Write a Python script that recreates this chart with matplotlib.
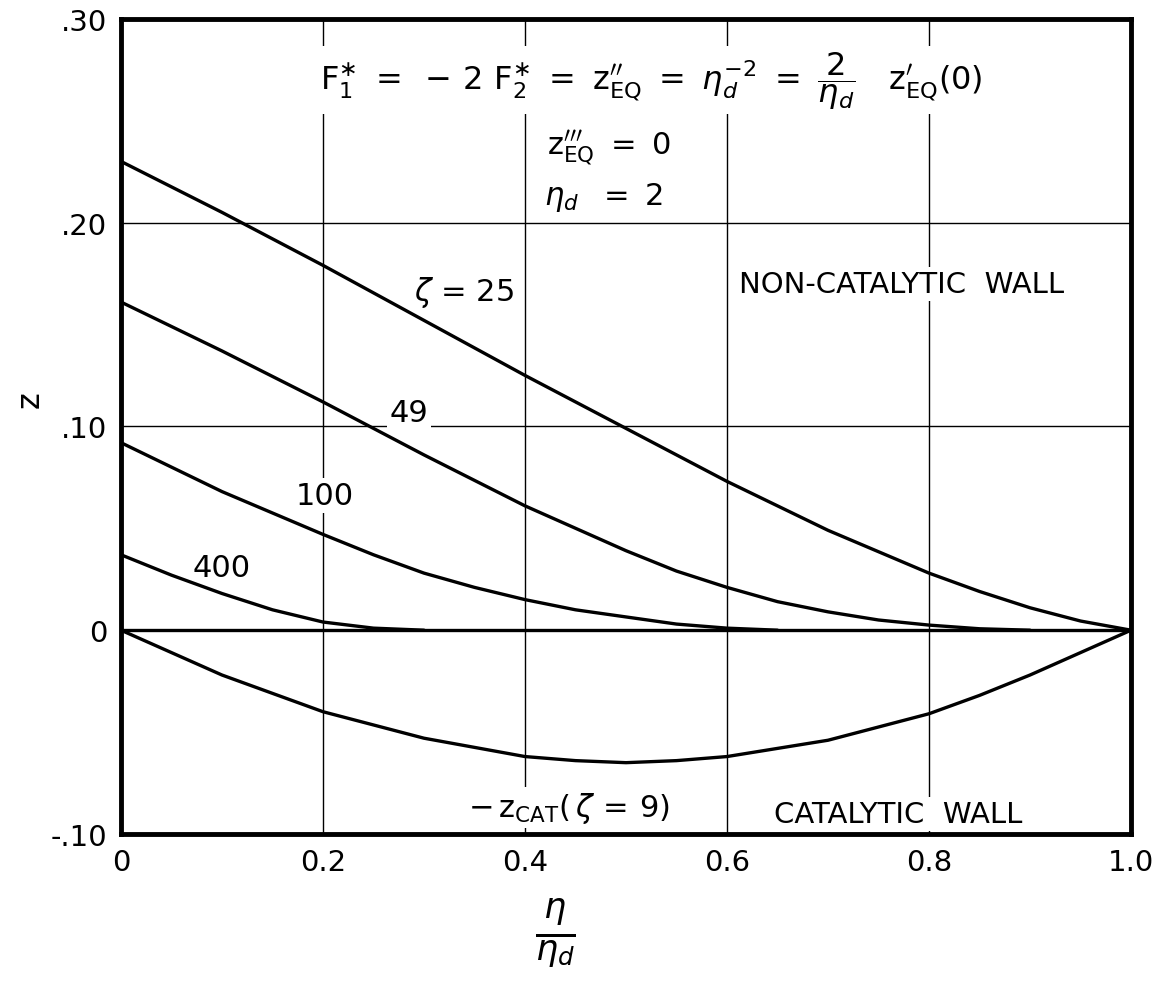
import numpy as np
import matplotlib.pyplot as plt

########## Data ##########
x_25 = [0.0, 0.1, 0.2, 0.3, 0.4, 0.5, 0.6, 0.7, 0.8, 0.85, 0.9, 0.95, 1.0]
z_25 = [0.230, 0.205, 0.179, 0.152, 0.125, 0.099, 0.073, 0.049, 0.028, 0.019, 0.011, 0.0045, 0.0]

x_49 = [0.0, 0.1, 0.2, 0.3, 0.4, 0.45, 0.5, 0.55, 0.6, 0.65, 0.7, 0.75, 0.8, 0.85, 0.9]
z_49 = [0.161, 0.137, 0.112, 0.086, 0.061, 0.050, 0.039, 0.029, 0.021, 0.014, 0.009, 0.005, 0.0025, 0.0007, 0.0]

x_100 = [0.0, 0.1, 0.2, 0.25, 0.3, 0.35, 0.4, 0.45, 0.5, 0.55, 0.6, 0.65]
z_100 = [0.092, 0.068, 0.047, 0.037, 0.028, 0.021, 0.015, 0.010, 0.0065, 0.003, 0.001, 0.0]

x_400 = [0.0, 0.05, 0.1, 0.15, 0.2, 0.25, 0.3]
z_400 = [0.037, 0.027, 0.018, 0.010, 0.004, 0.001, 0.0]

x_cat = [0.0, 0.05, 0.1, 0.15, 0.2, 0.3, 0.4, 0.45, 0.5, 0.55, 0.6, 0.7, 0.8, 0.85, 0.9, 0.95, 1.0]
z_cat = [0.0, -0.011, -0.022, -0.031, -0.040, -0.053, -0.062, -0.064, -0.065, -0.064, -0.062, -0.054, -0.041, -0.032, -0.022, -0.011, 0.0]

x_ticks = [0, 0.2, 0.4, 0.6, 0.8, 1.0]
x_labels = ["0", "0.2", "0.4", "0.6", "0.8", "1.0"]
y_ticks = [-0.1, 0.0, 0.1, 0.2, 0.3]
y_labels = ["-.10", "0", ".10", ".20", ".30"]

##### Figure #####
plt.rcParams['font.family'] = ['DejaVu Sans']
plt.rcParams['mathtext.fontset'] = 'dejavusans'

fig = plt.figure(figsize=(11.69, 9.87), dpi=100)
ax = fig.add_axes([0.1035, 0.154, 0.864, 0.826])

ax.set_xlim(0, 1.0)
ax.set_ylim(-0.1, 0.3)

# grid
for gx in [0.2, 0.4, 0.6, 0.8]:
    ax.axvline(gx, color='black', lw=1.0, zorder=1)
for gy in [0.1, 0.2]:
    ax.axhline(gy, color='black', lw=1.0, zorder=1)
ax.axhline(0.0, color='black', lw=2.4, zorder=3)

# curves
for xs, zs in [(x_25, z_25), (x_49, z_49), (x_100, z_100), (x_400, z_400), (x_cat, z_cat)]:
    ax.plot(xs, zs, color='black', lw=2.4, solid_capstyle='round', solid_joinstyle='round', zorder=3)

for s in ax.spines.values():
    s.set_linewidth(3.5)

ax.set_xticks(x_ticks)
ax.set_xticklabels(x_labels)
ax.set_yticks(y_ticks)
ax.set_yticklabels(y_labels)
ax.tick_params(length=0, labelsize=21, pad=10)

##### Annotations #####
box = dict(facecolor='white', edgecolor='none', pad=2)
fs = 22

ax.text(0.525, 0.270,
        r"$\mathrm{F}_1^{\ast}\ =\ -\,2\ \mathrm{F}_2^{\ast}\ =\ \mathrm{z}_{\mathrm{EQ}}^{\prime\prime}\ =\ \eta_d^{-2}\ =\ \dfrac{2}{\eta_d}\ \ \ \mathrm{z}_{\mathrm{EQ}}^{\prime}(0)$",
        fontsize=23, ha='center', va='center', bbox=box, zorder=2)
ax.text(0.483, 0.237, r"$\mathrm{z}_{\mathrm{EQ}}^{\prime\prime\prime}\ =\ 0$",
        fontsize=fs, ha='center', va='center', bbox=box, zorder=2)
ax.text(0.478, 0.213, r"$\eta_d\ \ =\ 2$",
        fontsize=fs, ha='center', va='center', bbox=box, zorder=2)

ax.text(0.340, 0.166, r"$\zeta$ = 25", fontsize=fs, ha='center', va='center', bbox=box, zorder=2)
ax.text(0.285, 0.107, "49", fontsize=fs, ha='center', va='center', bbox=box, zorder=2)
ax.text(0.202, 0.066, "100", fontsize=fs, ha='center', va='center', bbox=box, zorder=2)
ax.text(0.100, 0.031, "400", fontsize=fs, ha='center', va='center', bbox=box, zorder=2)

ax.text(0.773, 0.170, "NON-CATALYTIC  WALL", fontsize=21, ha='center', va='center', bbox=box, zorder=2)
ax.text(0.769, -0.090, "CATALYTIC  WALL", fontsize=21, ha='center', va='center', bbox=box, zorder=2)
ax.text(0.443, -0.087, r"$-\,\mathrm{z}_{\mathrm{CAT}}(\,\zeta\,=\,9)$", fontsize=fs, ha='center', va='center', bbox=box, zorder=2)

##### Axis labels #####
fig.text(0.026, 0.595, "z", fontsize=23, rotation=90, ha='center', va='center')
fig.text(0.475, 0.055, r"$\frac{\eta}{\eta_d}$", fontsize=36, ha='center', va='center')

fig.savefig("out.png", dpi=100)
